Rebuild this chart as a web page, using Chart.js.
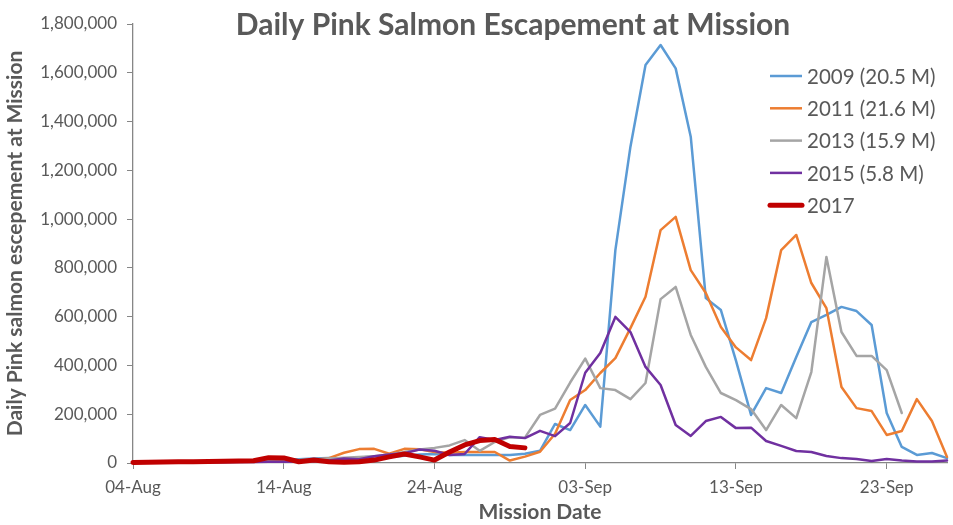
<!DOCTYPE html>
<html>
<head>
<meta charset="utf-8">
<script src="https://cdn.jsdelivr.net/npm/chart.js@4.4.0/dist/chart.umd.min.js"></script>
<style>
  html, body { margin: 0; padding: 0; background: #fff; overflow: hidden; }
  #wrap { width: 953px; height: 525px; position: relative; }
</style>
</head>
<body>
<div id="wrap"><canvas id="salmonChart"></canvas></div>
<script>
// day labels, 04-Aug .. 27-Sep
const dates = [
  "04-Aug","05-Aug","06-Aug","07-Aug","08-Aug","09-Aug","10-Aug","11-Aug","12-Aug","13-Aug",
  "14-Aug","15-Aug","16-Aug","17-Aug","18-Aug","19-Aug","20-Aug","21-Aug","22-Aug","23-Aug",
  "24-Aug","25-Aug","26-Aug","27-Aug","28-Aug","29-Aug","30-Aug","31-Aug","01-Sep","02-Sep",
  "03-Sep","04-Sep","05-Sep","06-Sep","07-Sep","08-Sep","09-Sep","10-Sep","11-Sep","12-Sep",
  "13-Sep","14-Sep","15-Sep","16-Sep","17-Sep","18-Sep","19-Sep","20-Sep","21-Sep","22-Sep",
  "23-Sep","24-Sep","25-Sep","26-Sep","27-Sep"
];

const seriesNames = ["2009 (20.5 M)", "2011 (21.6 M)", "2013 (15.9 M)", "2015 (5.8 M)", "2017"];

const y2009 = [2000,3000,3000,4000,5000,5000,6000,7000,8000,10000,
  12000,15000,18000,20000,18000,22000,28000,25000,30000,35000,
  37000,33000,33000,33000,33000,33000,38000,50000,160000,135000,
  238000,149000,873000,1297000,1632000,1714000,1618000,1338000,676000,627000,
  420000,197000,307000,287000,435000,578000,607000,640000,623000,566000,
  205000,66000,33000,41000,20000];

const y2011 = [1000,2000,2000,3000,3000,4000,5000,5000,6000,7000,
  8000,10000,12000,20000,42000,57000,58000,38000,58000,56000,
  45000,42000,45000,45000,45000,10000,26000,46000,120000,258000,
  299000,369000,430000,553000,682000,955000,1009000,791000,697000,558000,
  474000,422000,594000,873000,935000,738000,635000,312000,225000,213000,
  115000,131000,262000,172000,25000];

const y2013 = [3000,3000,4000,4000,5000,6000,6000,7000,8000,9000,
  10000,12000,15000,18000,22000,25000,28000,35000,45000,55000,
  62000,72000,94000,50000,86000,106000,104000,197000,223000,330000,
  428000,307000,299000,262000,328000,672000,722000,525000,394000,287000,
  258000,221000,135000,238000,184000,373000,845000,537000,439000,439000,
  381000,205000];

const y2015 = [1000,1000,2000,2000,2000,3000,3000,4000,4000,5000,
  5000,6000,8000,10000,18000,15000,28000,35000,40000,55000,
  50000,33000,37000,106000,94000,108000,102000,132000,110000,164000,
  370000,451000,599000,537000,394000,320000,156000,111000,172000,189000,
  143000,145000,90000,70000,49000,45000,29000,20000,16000,8000,
  16000,10000,6000,6000,10000];

const y2017 = [2000,3000,4000,5000,5000,6000,7000,8000,9000,22000,
  21000,5000,12000,5000,3000,5000,12000,25000,37000,25000,
  12000,45000,74000,92000,96000,68000,62000];

const yTicks = [0,200000,400000,600000,800000,1000000,1200000,1400000,1600000,1800000];

const colors = ["#5B9BD5", "#ED7D31", "#A5A5A5", "#7030A0", "#C00000"];
const textColor = "#595959";
const axisColor = "#868686";
const fontFam = "Lato, 'Open Sans', sans-serif";

function makeSet(i, values, width) {
  return {
    label: seriesNames[i],
    data: values,
    borderColor: colors[i],
    backgroundColor: colors[i],
    borderWidth: width,
    pointRadius: 0,
    tension: 0,
    fill: false,
    clip: 6,
    borderJoinStyle: "round",
    borderCapStyle: "round",
    order: 5 - i
  };
}

// title drawn over the plot, Excel-style
const titlePlugin = {
  id: "overTitle",
  afterDraw(chart) {
    const ctx = chart.ctx;
    ctx.save();
    ctx.font = "bold 30px " + fontFam;
    ctx.fillStyle = textColor;
    ctx.textAlign = "center";
    ctx.textBaseline = "middle";
    ctx.fillText("Daily Pink Salmon Escapement at Mission", 513, 25);
    ctx.restore();
  }
};

// legend sitting inside the plot area, top right
const innerLegend = {
  id: "innerLegend",
  afterDraw(chart) {
    const ctx = chart.ctx;
    const x0 = chart.chartArea.right - 177;
    ctx.save();
    ctx.font = "20.5px " + fontFam;
    ctx.textBaseline = "middle";
    chart.data.datasets.forEach(function (ds, i) {
      const y = 76 + i * 32.3;
      ctx.strokeStyle = ds.borderColor;
      ctx.lineWidth = ds.borderWidth;
      ctx.lineCap = ds.borderWidth > 3 ? "round" : "butt";
      ctx.beginPath();
      ctx.moveTo(x0, y);
      ctx.lineTo(x0 + 32, y);
      ctx.stroke();
      ctx.fillStyle = textColor;
      ctx.fillText(ds.label, x0 + 37, y + 1);
    });
    ctx.restore();
  }
};

const ctx = document.getElementById("salmonChart").getContext("2d");
const salmonChart = new Chart(ctx, {
  type: "line",
  data: {
    labels: dates,
    datasets: [
      makeSet(0, y2009, 2.5),
      makeSet(1, y2011, 2.5),
      makeSet(2, y2013, 2.5),
      makeSet(3, y2015, 2.5),
      makeSet(4, y2017, 5)
    ]
  },
  options: {
    responsive: true,
    maintainAspectRatio: false,
    animation: false,
    layout: { padding: { top: 24, right: 6, left: 0, bottom: 0 } },
    plugins: {
      legend: { display: false },
      title: { display: false },
      tooltip: { enabled: false }
    },
    scales: {
      x: {
        offset: false,
        afterFit: function (scale) { scale.height = 62; },
        grid: {
          drawOnChartArea: false,
          drawTicks: true,
          tickLength: 6,
          color: axisColor
        },
        border: { color: axisColor, width: 1.3 },
        ticks: {
          autoSkip: false,
          maxRotation: 0,
          padding: 8,
          color: textColor,
          font: { family: fontFam, size: 17 },
          callback: function (val, idx) {
            return idx % 10 === 0 ? dates[idx] : null;
          }
        },
        title: {
          display: true,
          text: "Mission Date",
          color: textColor,
          font: { family: fontFam, size: 21, weight: "bold" },
          padding: { top: 0, bottom: 0 }
        }
      },
      y: {
        min: 0,
        max: 1800000,
        afterFit: function (scale) { scale.width = 133; },
        afterBuildTicks: function (scale) {
          scale.ticks = yTicks.map(function (v) { return { value: v }; });
        },
        grid: {
          drawOnChartArea: false,
          drawTicks: true,
          tickLength: 6,
          color: axisColor
        },
        border: { color: axisColor, width: 1.3 },
        ticks: {
          padding: 10,
          color: textColor,
          font: { family: fontFam, size: 17 },
          callback: function (v) { return v.toLocaleString("en-US"); }
        },
        title: {
          display: true,
          text: "Daily Pink salmon escepement at Mission",
          color: textColor,
          font: { family: fontFam, size: 21, weight: "bold" },
          padding: { top: 3, bottom: 0 }
        }
      }
    }
  },
  plugins: [titlePlugin, innerLegend]
});
</script>
</body>
</html>
